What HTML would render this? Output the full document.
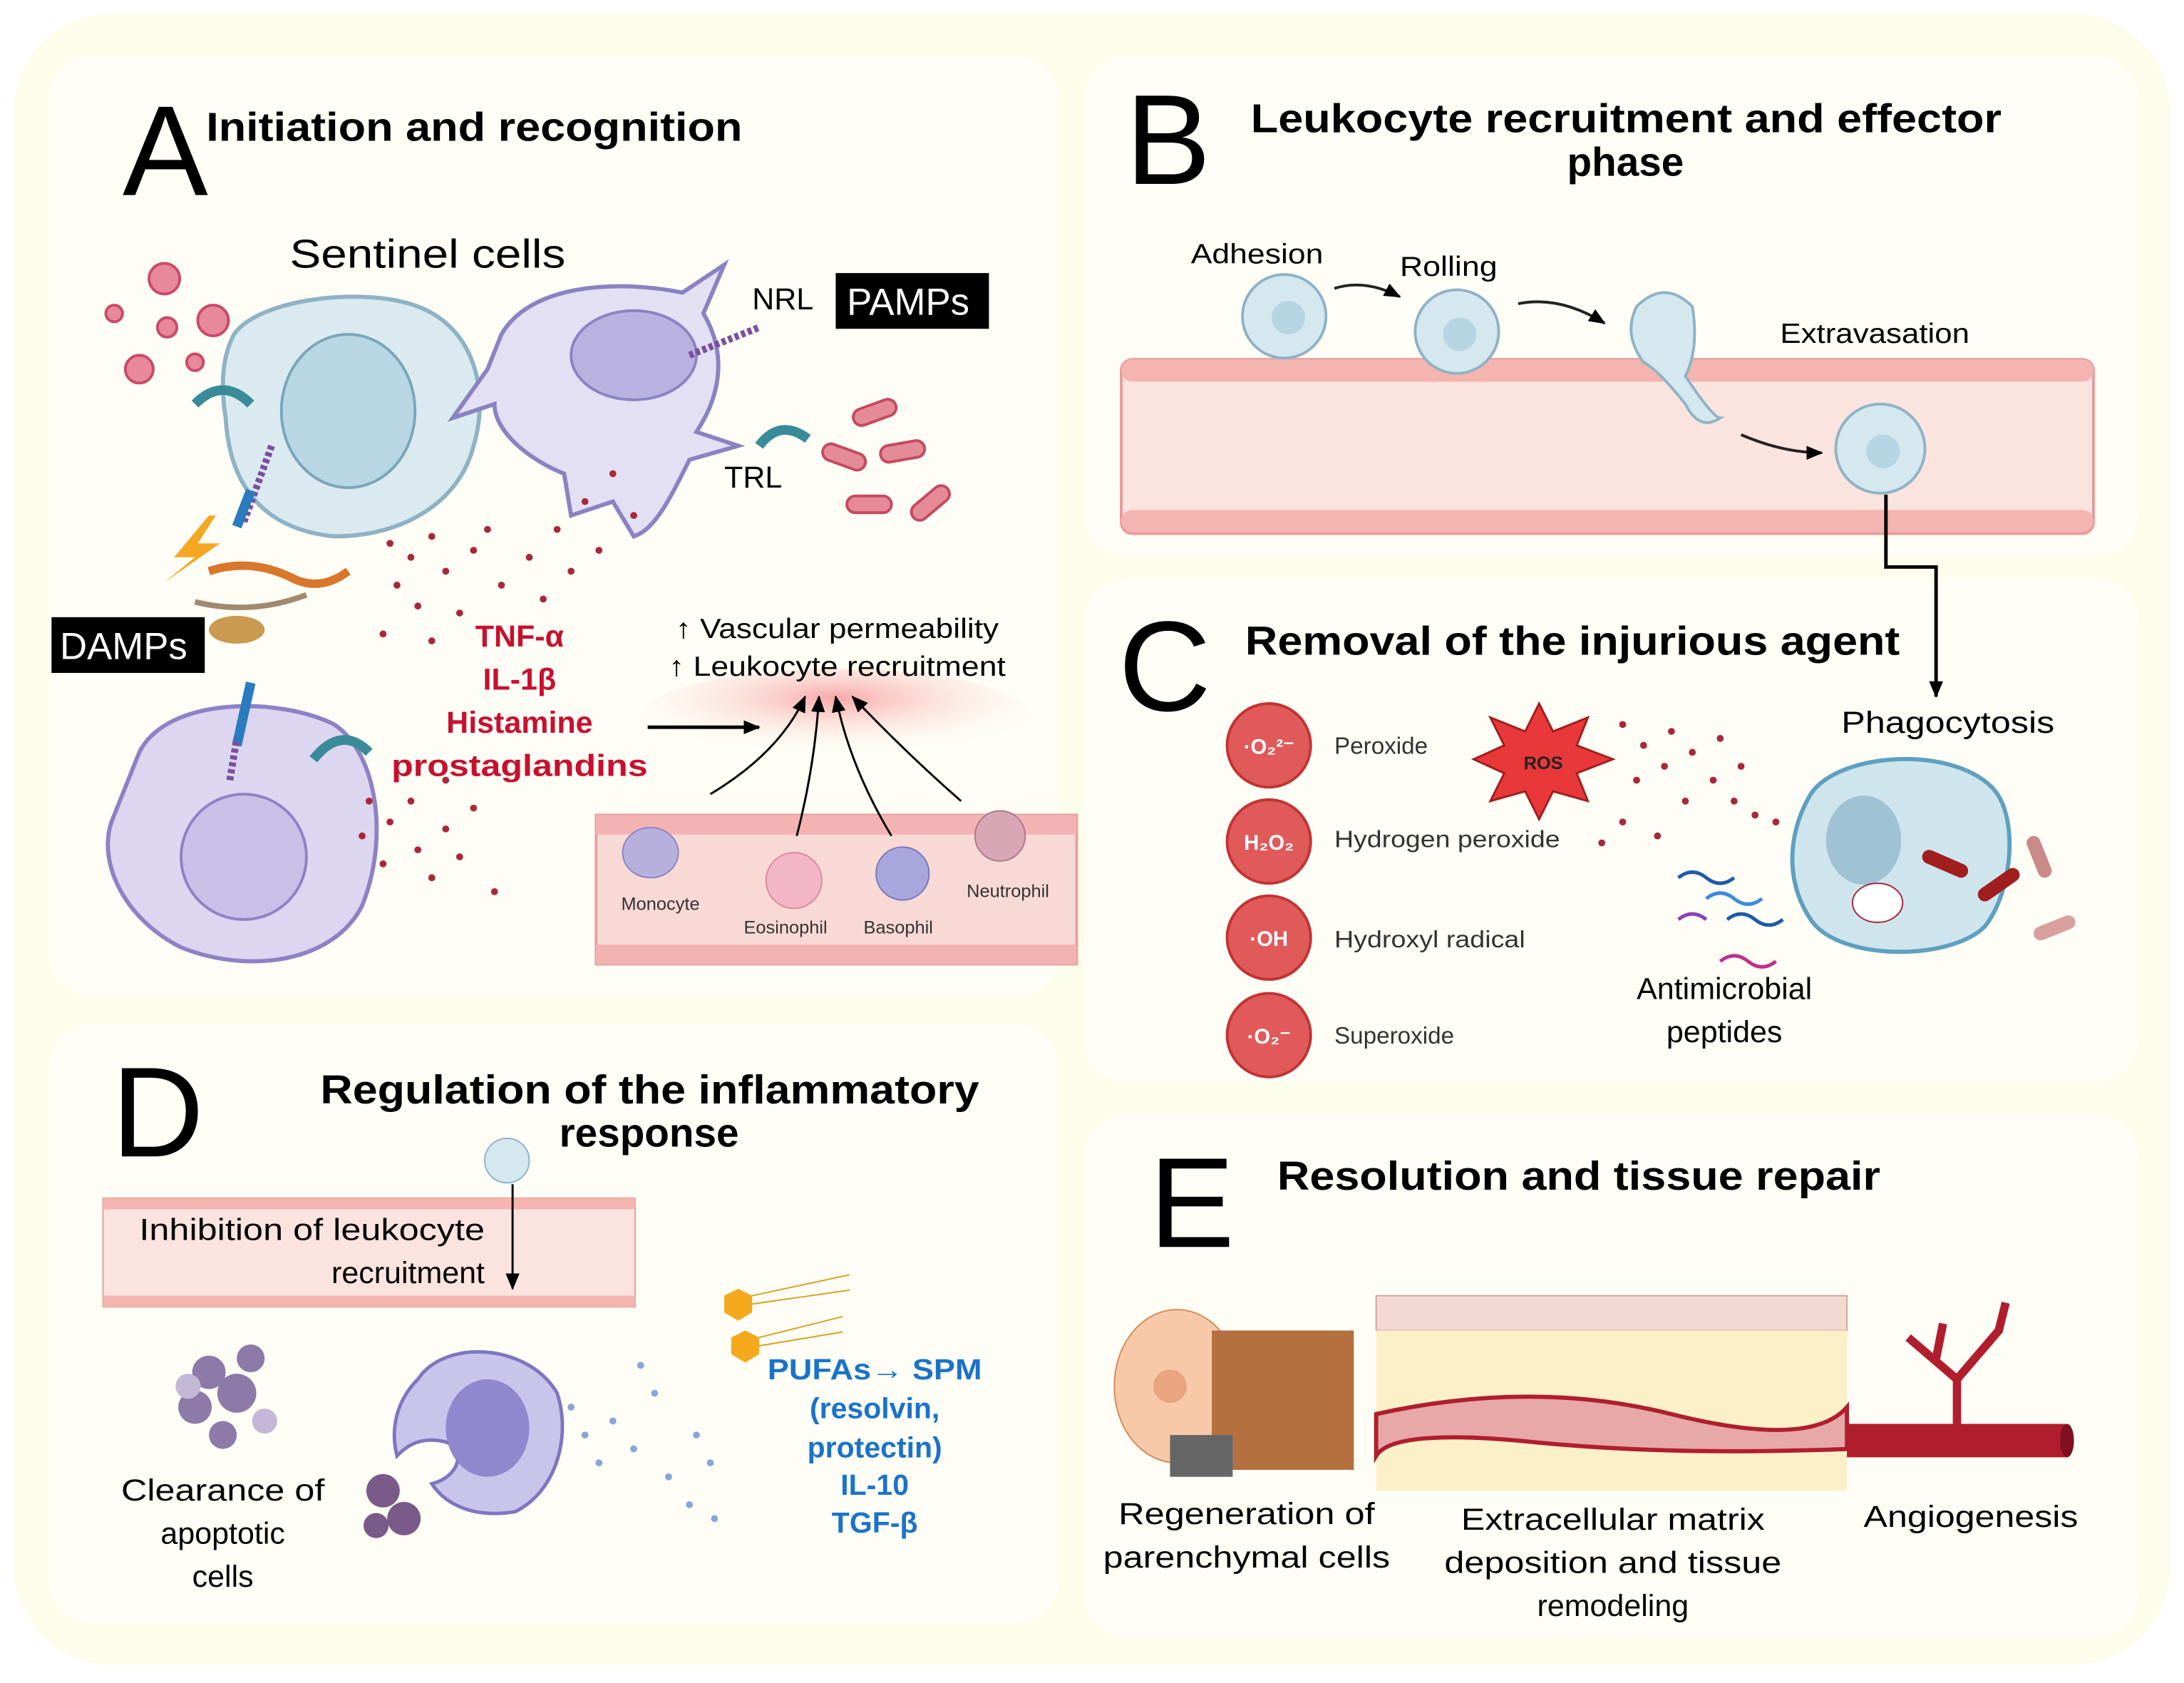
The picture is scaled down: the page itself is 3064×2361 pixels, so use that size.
<!DOCTYPE html>
<html><head><meta charset="utf-8"><style>
html,body{margin:0;padding:0;background:#fff;width:3064px;height:2361px;overflow:hidden}
svg{display:block}
text{font-family:"Liberation Sans",Arial,sans-serif}
</style></head><body>
<svg width="3064" height="2361" viewBox="0 0 1568 1208" preserveAspectRatio="none" xmlns="http://www.w3.org/2000/svg">
<defs>
<marker id="ar" markerUnits="userSpaceOnUse" markerWidth="12" markerHeight="12" refX="11" refY="6" orient="auto"><path d="M0,1 L12,6 L0,11 z" fill="#000"/></marker>
<radialGradient id="glow" cx="0.5" cy="0.3" r="0.6"><stop offset="0" stop-color="#f7a8a8"/><stop offset="1" stop-color="#fefef6" stop-opacity="0"/></radialGradient>
</defs>
<rect x="0" y="0" width="1568" height="1208" fill="#fff"/>
<rect x="10" y="10" width="1548" height="1185" rx="70" fill="#fcfdea"/>
<rect x="35" y="40" width="725" height="675" rx="30" fill="#fefef6"/>
<rect x="778" y="40" width="757" height="360" rx="30" fill="#fefef6"/>
<rect x="778" y="415" width="757" height="362" rx="30" fill="#fefef6"/>
<rect x="35" y="735" width="725" height="430" rx="30" fill="#fefef6"/>
<rect x="778" y="800" width="757" height="375" rx="30" fill="#fefef6"/>

<!-- Panel A -->
<text x="88" y="140" font-size="92">A</text>
<text x="148" y="101" font-size="29" font-weight="bold" textLength="385" lengthAdjust="spacingAndGlyphs">Initiation and recognition</text>
<text x="208" y="192" font-size="29" textLength="198" lengthAdjust="spacingAndGlyphs">Sentinel  cells</text>
<g fill="#e8899b" stroke="#c94a6a" stroke-width="2">
<circle cx="118" cy="200" r="11"/><circle cx="153" cy="230" r="11"/><circle cx="100" cy="265" r="10"/><circle cx="120" cy="235" r="7"/><circle cx="82" cy="225" r="6"/><circle cx="140" cy="260" r="6"/>
</g>
<path d="M168,240 C185,215 260,205 300,220 C340,235 352,280 340,320 C330,360 290,385 240,385 C190,380 165,350 162,300 C158,275 160,255 168,240 z" fill="#dbeaf0" stroke="#8fb3c4" stroke-width="3"/>
<ellipse cx="250" cy="295" rx="48" ry="55" fill="#b8d6e3" stroke="#7aa5b8" stroke-width="2"/>
<path d="M140,290 q20,-20 40,0" stroke="#3a8b9a" stroke-width="7" fill="none"/>
<line x1="195" y1="320" x2="175" y2="375" stroke="#7b4fa0" stroke-width="5" stroke-dasharray="3,2"/>
<line x1="180" y1="352" x2="170" y2="378" stroke="#2b7bbf" stroke-width="7"/>
<path d="M360,240 C380,205 440,200 490,210 L520,190 L505,225 C520,250 520,280 500,310 L530,320 L495,330 C480,360 470,380 455,385 L440,360 L410,370 L405,340 C380,330 355,310 355,290 L325,300 L350,265 z" fill="#e4e0f3" stroke="#8a83c2" stroke-width="3"/>
<ellipse cx="455" cy="255" rx="45" ry="32" fill="#b9b2e0" stroke="#8a83c2" stroke-width="2"/>
<line x1="495" y1="255" x2="545" y2="235" stroke="#7b4fa0" stroke-width="5" stroke-dasharray="3,2"/>
<path d="M545,320 q15,-20 35,-5" stroke="#3a8b9a" stroke-width="7" fill="none"/>
<text x="540" y="222" font-size="22">NRL</text>
<rect x="600" y="196" width="110" height="40" fill="#000"/>
<text x="608" y="226" font-size="27" fill="#fff">PAMPs</text>
<text x="520" y="350" font-size="22">TRL</text>
<g fill="#e58b98" stroke="#c54a5e" stroke-width="2">
<rect x="612" y="290" width="32" height="12" rx="6" transform="rotate(-20 628 296)"/>
<rect x="590" y="322" width="32" height="12" rx="6" transform="rotate(20 606 328)"/>
<rect x="632" y="318" width="32" height="12" rx="6" transform="rotate(-10 648 324)"/>
<rect x="608" y="356" width="32" height="12" rx="6"/>
<rect x="652" y="355" width="32" height="12" rx="6" transform="rotate(-40 668 361)"/>
</g>
<polygon points="150,370 125,400 140,400 118,418 158,390 142,390 155,370" fill="#f5a623"/>
<path d="M150,410 q30,-10 60,5 q20,10 40,-5" stroke="#d9772a" stroke-width="6" fill="none"/>
<path d="M140,432 q40,10 80,-5" stroke="#a08a70" stroke-width="4" fill="none"/>
<ellipse cx="170" cy="452" rx="20" ry="10" fill="#c99a50"/>
<rect x="37" y="443" width="110" height="40" fill="#000"/>
<text x="43" y="473" font-size="27" fill="#fff">DAMPs</text>
<path d="M100,540 C120,500 200,500 240,520 C270,540 280,600 260,650 C240,690 180,700 130,680 C90,660 70,620 80,590 z" fill="#ddd6f0" stroke="#8d82c5" stroke-width="3"/>
<circle cx="175" cy="615" r="45" fill="#c8c0e6" stroke="#8d82c5" stroke-width="2"/>
<line x1="170" y1="535" x2="180" y2="490" stroke="#2b7bbf" stroke-width="7"/>
<line x1="165" y1="560" x2="170" y2="530" stroke="#7b4fa0" stroke-width="5" stroke-dasharray="3,2"/>
<path d="M225,545 q20,-25 40,-5" stroke="#3a8b9a" stroke-width="7" fill="none"/>
<g fill="#a8283a">
<circle cx="280" cy="390" r="2.5"/><circle cx="295" cy="400" r="2.5"/><circle cx="310" cy="385" r="2.5"/><circle cx="285" cy="420" r="2.5"/><circle cx="300" cy="435" r="2.5"/><circle cx="320" cy="410" r="2.5"/><circle cx="340" cy="395" r="2.5"/><circle cx="330" cy="440" r="2.5"/><circle cx="360" cy="420" r="2.5"/><circle cx="380" cy="400" r="2.5"/><circle cx="400" cy="380" r="2.5"/><circle cx="410" cy="410" r="2.5"/><circle cx="420" cy="360" r="2.5"/><circle cx="440" cy="340" r="2.5"/><circle cx="430" cy="395" r="2.5"/><circle cx="275" cy="455" r="2.5"/><circle cx="310" cy="460" r="2.5"/><circle cx="350" cy="380" r="2.5"/><circle cx="390" cy="430" r="2.5"/><circle cx="455" cy="370" r="2.5"/>
<circle cx="260" cy="600" r="2.5"/><circle cx="280" cy="590" r="2.5"/><circle cx="300" cy="610" r="2.5"/><circle cx="275" cy="620" r="2.5"/><circle cx="295" cy="575" r="2.5"/><circle cx="320" cy="595" r="2.5"/><circle cx="310" cy="630" r="2.5"/><circle cx="330" cy="615" r="2.5"/><circle cx="340" cy="580" r="2.5"/><circle cx="355" cy="640" r="2.5"/><circle cx="265" cy="575" r="2.5"/><circle cx="320" cy="560" r="2.5"/>
</g>
<g font-size="22" font-weight="bold" fill="#c8102e" text-anchor="middle">
<text x="373" y="464">TNF-α</text><text x="373" y="495">IL-1β</text><text x="373" y="526">Histamine</text><text x="373" y="557" textLength="184" lengthAdjust="spacingAndGlyphs">prostaglandins</text>
</g>
<ellipse cx="600" cy="515" rx="140" ry="35" fill="url(#glow)"/>
<line x1="465" y1="522" x2="545" y2="522" stroke="#000" stroke-width="2.5" marker-end="url(#ar)"/>
<text x="485" y="458" font-size="20" textLength="232" lengthAdjust="spacingAndGlyphs">↑ Vascular permeability</text>
<text x="480" y="485" font-size="20" textLength="242" lengthAdjust="spacingAndGlyphs">↑ Leukocyte recruitment</text>
<rect x="428" y="585" width="345" height="107" fill="#f9d9d6" stroke="#e5a1a1" stroke-width="2"/>
<rect x="428" y="585" width="345" height="14" fill="#f4b3b3"/>
<rect x="428" y="678" width="345" height="14" fill="#f4b3b3"/>
<g stroke="#000" stroke-width="1.5" fill="none" marker-end="url(#ar)">
<path d="M510,570 Q560,540 578,500"/><path d="M572,600 Q585,550 588,500"/><path d="M640,600 Q610,550 600,500"/><path d="M690,575 Q650,540 612,500"/>
</g>
<ellipse cx="467" cy="612" rx="20" ry="18" fill="#b7b0dd" stroke="#8a83c2"/>
<circle cx="570" cy="632" r="20" fill="#f3b6c7" stroke="#d8899f"/>
<circle cx="648" cy="627" r="19" fill="#a7a6dd" stroke="#7a78b8"/>
<circle cx="718" cy="600" r="18" fill="#d8a7b5" stroke="#b07688"/>
<g font-size="13" fill="#333"><text x="446" y="653">Monocyte</text><text x="534" y="670">Eosinophil</text><text x="620" y="670">Basophil</text><text x="694" y="644">Neutrophil</text></g>

<!-- Panel B -->
<text x="808" y="132" font-size="92">B</text>
<text x="898" y="95" font-size="29" font-weight="bold" textLength="539" lengthAdjust="spacingAndGlyphs">Leukocyte recruitment and effector</text>
<text x="1167" y="126" font-size="29" font-weight="bold" text-anchor="middle">phase</text>
<text x="855" y="189" font-size="20" textLength="95" lengthAdjust="spacingAndGlyphs">Adhesion</text>
<text x="1005" y="198" font-size="20" textLength="70" lengthAdjust="spacingAndGlyphs">Rolling</text>
<text x="1278" y="246" font-size="20" textLength="136" lengthAdjust="spacingAndGlyphs">Extravasation</text>
<rect x="805" y="258" width="698" height="125" rx="8" fill="#fbe3df" stroke="#e99a9a" stroke-width="2"/>
<rect x="805" y="258" width="698" height="16" rx="8" fill="#f4b4b0"/>
<rect x="805" y="366" width="698" height="16" rx="8" fill="#f4b4b0"/>
<g fill="#d5e7ef" stroke="#8fb3c4" stroke-width="2">
<circle cx="922" cy="227" r="30"/><circle cx="1046" cy="238" r="30"/><path d="M1175,220 q20,-20 40,0 q5,30 -5,50 q20,30 25,30 q-15,10 -25,-10 q-20,-25 -30,-30 q-15,-20 -5,-40z"/><circle cx="1350" cy="322" r="32"/>
</g>
<g fill="#b6d5e3"><circle cx="925" cy="228" r="12"/><circle cx="1048" cy="240" r="12"/><circle cx="1352" cy="324" r="12"/></g>
<g stroke="#222" stroke-width="2" fill="none" marker-end="url(#ar)">
<path d="M958,207 Q980,200 1005,213"/><path d="M1090,218 Q1120,212 1152,232"/><path d="M1250,312 Q1280,325 1308,325"/>
</g>
<path d="M1354,355 V407 H1390 V500" stroke="#000" stroke-width="2.5" fill="none" marker-end="url(#ar)"/>

<!-- Panel C -->
<text x="803" y="510" font-size="92">C</text>
<text x="894" y="470" font-size="29" font-weight="bold" textLength="470" lengthAdjust="spacingAndGlyphs">Removal of the injurious agent</text>
<g fill="#e05a5a" stroke="#c23434" stroke-width="2">
<circle cx="911" cy="535" r="30"/><circle cx="911" cy="604" r="30"/><circle cx="911" cy="673" r="30"/><circle cx="911" cy="743" r="30"/>
</g>
<g fill="#fff" font-size="15" font-weight="bold" text-anchor="middle">
<text x="911" y="541">·O₂²⁻</text><text x="911" y="610">H₂O₂</text><text x="911" y="679">·OH</text><text x="911" y="749">·O₂⁻</text>
</g>
<g font-size="17" fill="#333"><text x="958" y="541">Peroxide</text><text x="958" y="608" textLength="162" lengthAdjust="spacingAndGlyphs">Hydrogen peroxide</text><text x="958" y="680" textLength="137" lengthAdjust="spacingAndGlyphs">Hydroxyl radical</text><text x="958" y="749">Superoxide</text></g>
<polygon points="1105,505 1115,525 1140,515 1132,535 1158,545 1132,555 1140,575 1115,568 1105,588 1095,568 1070,575 1080,555 1058,545 1080,535 1070,515 1095,525" fill="#e8383a" stroke="#a01e1e" stroke-width="1.5"/>
<text x="1108" y="552" font-size="13" font-weight="bold" text-anchor="middle" fill="#222">ROS</text>
<g fill="#a8283a">
<circle cx="1165" cy="520" r="2.5"/><circle cx="1180" cy="535" r="2.5"/><circle cx="1200" cy="525" r="2.5"/><circle cx="1175" cy="560" r="2.5"/><circle cx="1195" cy="550" r="2.5"/><circle cx="1215" cy="540" r="2.5"/><circle cx="1230" cy="560" r="2.5"/><circle cx="1210" cy="575" r="2.5"/><circle cx="1245" cy="575" r="2.5"/><circle cx="1260" cy="585" r="2.5"/><circle cx="1275" cy="590" r="2.5"/><circle cx="1165" cy="590" r="2.5"/><circle cx="1150" cy="605" r="2.5"/><circle cx="1190" cy="600" r="2.5"/><circle cx="1235" cy="530" r="2.5"/><circle cx="1250" cy="550" r="2.5"/>
</g>
<text x="1322" y="526" font-size="22" textLength="153" lengthAdjust="spacingAndGlyphs">Phagocytosis</text>
<path d="M1300,570 C1320,540 1400,535 1430,565 C1450,585 1445,640 1425,665 C1400,690 1320,690 1300,660 C1280,630 1285,595 1300,570 z" fill="#cfe5ee" stroke="#5fa0c0" stroke-width="3"/>
<ellipse cx="1338" cy="603" rx="27" ry="32" fill="#9fc2d4"/>
<ellipse cx="1348" cy="648" rx="18" ry="14" fill="#fff" stroke="#a8283a"/>
<g stroke-linecap="round"><line x1="1385" y1="615" x2="1408" y2="625" stroke="#a01e1e" stroke-width="10"/><line x1="1425" y1="642" x2="1445" y2="628" stroke="#a01e1e" stroke-width="10"/><line x1="1460" y1="605" x2="1468" y2="625" stroke="#c98a8a" stroke-width="10"/><line x1="1465" y1="670" x2="1485" y2="662" stroke="#d9a0a0" stroke-width="10"/></g>
<g fill="none" stroke-width="2.5"><path d="M1205,630 q10,-8 20,0 q10,8 20,0" stroke="#1f5aa8"/><path d="M1225,645 q10,-8 20,0 q10,8 20,0" stroke="#3a8be0"/><path d="M1205,660 q10,-8 20,0" stroke="#8a3fb8"/><path d="M1240,660 q10,-8 20,0 q10,8 20,0" stroke="#1f5aa8"/><path d="M1235,690 q10,-8 20,0 q10,8 20,0" stroke="#c0308a"/></g>
<text x="1238" y="717" font-size="22" text-anchor="middle">Antimicrobial</text>
<text x="1238" y="748" font-size="22" text-anchor="middle">peptides</text>

<!-- Panel D -->
<text x="80" y="830" font-size="92">D</text>
<text x="230" y="792" font-size="29" font-weight="bold" textLength="473" lengthAdjust="spacingAndGlyphs">Regulation of the inflammatory</text>
<text x="466" y="823" font-size="29" font-weight="bold" text-anchor="middle">response</text>
<rect x="74" y="860" width="382" height="78" fill="#fbe3df" stroke="#e99a9a"/>
<rect x="74" y="860" width="382" height="8" fill="#f4b4b0"/><rect x="74" y="930" width="382" height="8" fill="#f4b4b0"/>
<circle cx="364" cy="833" r="16" fill="#d5e7ef" stroke="#8fb3c4"/>
<line x1="368" y1="850" x2="368" y2="925" stroke="#000" stroke-width="1.5" marker-end="url(#ar)"/>
<text x="348" y="890" font-size="22" text-anchor="end" textLength="248" lengthAdjust="spacingAndGlyphs">Inhibition of leukocyte</text>
<text x="348" y="921" font-size="22" text-anchor="end">recruitment</text>
<g fill="#8d7aa8"><circle cx="150" cy="985" r="12"/><circle cx="170" cy="1000" r="14"/><circle cx="140" cy="1010" r="12"/><circle cx="180" cy="975" r="10"/><circle cx="160" cy="1030" r="10"/><circle cx="135" cy="995" r="9" fill="#c5b8d6"/><circle cx="190" cy="1020" r="9" fill="#c5b8d6"/></g>
<text x="160" y="1077" font-size="22" text-anchor="middle" textLength="146" lengthAdjust="spacingAndGlyphs">Clearance of</text>
<text x="160" y="1108" font-size="22" text-anchor="middle">apoptotic</text>
<text x="160" y="1139" font-size="22" text-anchor="middle">cells</text>
<path d="M300,990 C320,960 380,965 400,1000 C410,1030 400,1070 370,1085 C340,1090 320,1080 310,1065 C330,1060 335,1040 320,1035 C300,1030 290,1040 285,1045 C280,1025 285,1005 300,990z" fill="#c9c4ea" stroke="#7d77c0" stroke-width="2.5"/>
<ellipse cx="350" cy="1025" rx="30" ry="35" fill="#8f88cf"/>
<g fill="#7a5a88"><circle cx="275" cy="1070" r="12"/><circle cx="290" cy="1090" r="12"/><circle cx="270" cy="1095" r="9"/></g>
<g fill="#8aa5d8"><circle cx="410" cy="1010" r="2.5"/><circle cx="420" cy="1030" r="2.5"/><circle cx="440" cy="1020" r="2.5"/><circle cx="430" cy="1050" r="2.5"/><circle cx="455" cy="1040" r="2.5"/><circle cx="470" cy="1000" r="2.5"/><circle cx="480" cy="1060" r="2.5"/><circle cx="500" cy="1030" r="2.5"/><circle cx="495" cy="1080" r="2.5"/><circle cx="510" cy="1050" r="2.5"/><circle cx="460" cy="980" r="2.5"/><circle cx="513" cy="1090" r="2.5"/></g>
<polygon points="530,925 540,930 540,942 530,948 520,942 520,930" fill="#f5a91c"/>
<polygon points="535,955 545,960 545,972 535,978 525,972 525,960" fill="#f5a91c"/>
<g stroke="#d8a020" stroke-width="1" fill="none"><path d="M540,930 l70,-15"/><path d="M540,936 l70,-10"/><path d="M545,960 l60,-15"/><path d="M545,966 l60,-10"/></g>
<g font-size="21" font-weight="bold" fill="#1a73c8" text-anchor="middle">
<text x="628" y="990" textLength="154" lengthAdjust="spacingAndGlyphs">PUFAs→ SPM</text><text x="628" y="1018">(resolvin,</text><text x="628" y="1046">protectin)</text><text x="628" y="1073">IL-10</text><text x="628" y="1100">TGF-β</text>
</g>

<!-- Panel E -->
<text x="825" y="895" font-size="92">E</text>
<text x="917" y="854" font-size="29" font-weight="bold" textLength="433" lengthAdjust="spacingAndGlyphs">Resolution and tissue repair</text>
<ellipse cx="845" cy="995" rx="45" ry="55" fill="#f7c9a8" stroke="#d08a5a"/>
<circle cx="840" cy="995" r="12" fill="#e8a580"/>
<rect x="870" y="955" width="102" height="100" fill="#b5703f"/>
<rect x="840" y="1030" width="45" height="30" fill="#666"/>
<rect x="988" y="930" width="338" height="25" fill="#f3d9d2" stroke="#c9a9a0"/>
<rect x="988" y="955" width="338" height="115" fill="#fbf0c8"/>
<path d="M988,1015 Q1100,990 1200,1015 T1326,1010 L1326,1040 Q1200,1045 1100,1035 T988,1045z" fill="#e7a8a8" stroke="#b01e2e" stroke-width="3"/>
<rect x="1326" y="1022" width="158" height="24" fill="#b01e2e"/>
<ellipse cx="1484" cy="1034" rx="5" ry="12" fill="#801020"/>
<path d="M1405,1022 V990 L1370,960 M1405,990 L1435,955 L1440,935 M1390,975 L1395,950" stroke="#b01e2e" stroke-width="6" fill="none"/>
<text x="895" y="1094" font-size="22" text-anchor="middle" textLength="184" lengthAdjust="spacingAndGlyphs">Regeneration of</text>
<text x="895" y="1125" font-size="22" text-anchor="middle" textLength="206" lengthAdjust="spacingAndGlyphs">parenchymal cells</text>
<text x="1158" y="1098" font-size="22" text-anchor="middle" textLength="218" lengthAdjust="spacingAndGlyphs">Extracellular matrix</text>
<text x="1158" y="1129" font-size="22" text-anchor="middle" textLength="242" lengthAdjust="spacingAndGlyphs">deposition and tissue</text>
<text x="1158" y="1160" font-size="22" text-anchor="middle">remodeling</text>
<text x="1415" y="1096" font-size="22" text-anchor="middle" textLength="154" lengthAdjust="spacingAndGlyphs">Angiogenesis</text>
</svg>
</body></html>
